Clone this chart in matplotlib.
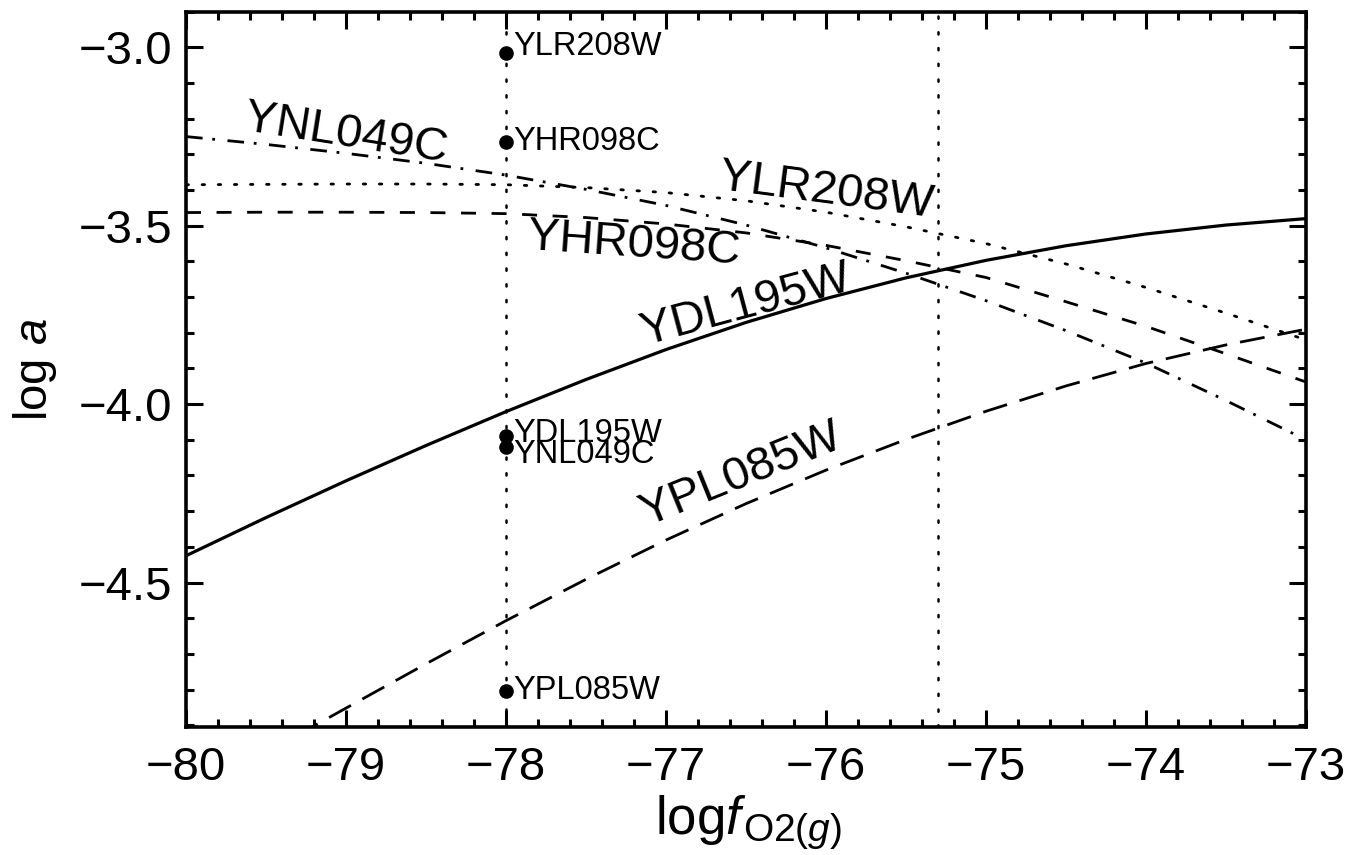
import matplotlib
matplotlib.use("Agg")
import matplotlib.pyplot as plt
from matplotlib.ticker import MultipleLocator, FuncFormatter

plt.rcParams['font.family'] = ['Liberation Sans', 'DejaVu Sans']
plt.rcParams['mathtext.fontset'] = 'custom'
plt.rcParams['mathtext.rm'] = 'Liberation Sans'
plt.rcParams['mathtext.it'] = 'Liberation Sans:italic'
plt.rcParams['mathtext.bf'] = 'Liberation Sans:bold'

# x grid of the curves (log fO2)
log_fo2 = [-80, -79.5, -79, -78.5, -78, -77.5, -77, -76.5, -76, -75.5, -75, -74.5, -74, -73.5, -73]

# log a of each protein along log fO2
ydl195w = [-4.425, -4.318, -4.215, -4.116, -4.021, -3.931, -3.847, -3.771, -3.704, -3.646, -3.597, -3.556, -3.523, -3.498, -3.480]
ylr208w = [-3.385, -3.384, -3.383, -3.383, -3.385, -3.393, -3.407, -3.43, -3.462, -3.503, -3.55, -3.607, -3.673, -3.745, -3.82]
yhr098c = [-3.463, -3.462, -3.462, -3.463, -3.466, -3.477, -3.495, -3.52, -3.555, -3.598, -3.645, -3.713, -3.782, -3.859, -3.938]
ynl049c = [-3.25, -3.272, -3.297, -3.325, -3.358, -3.398, -3.443, -3.498, -3.562, -3.633, -3.71, -3.794, -3.885, -3.99, -4.10]
ypl085w = [-4.977, -4.977, -4.852, -4.728, -4.607, -4.491, -4.381, -4.279, -4.185, -4.099, -4.02, -3.949, -3.886, -3.834, -3.79]

# reference points at log fO2 = -78
point_x = -78
point_names = ['YLR208W', 'YHR098C', 'YDL195W', 'YNL049C', 'YPL085W']
point_values = [-3.017, -3.264, -4.089, -4.119, -4.803]

# second vertical reference line
vline_x = -75.3

# curve label text
curve_names = ['YNL049C', 'YLR208W', 'YHR098C', 'YDL195W', 'YPL085W']

W, H = 1358, 855
fig = plt.figure(figsize=(W / 100, H / 100), dpi=100)
ax = fig.add_axes([186 / W, 1 - 727 / H, (1306 - 186) / W, (727 - 11.7) / H])

lw = 2.0
ax.plot(log_fo2, ydl195w, color='black', lw=2.3, linestyle='-')
ax.plot(log_fo2, ylr208w, color='black', lw=lw, linestyle=(0, (0.9, 4.9)), dash_capstyle='round')
ax.plot(log_fo2, yhr098c, color='black', lw=lw, linestyle=(0, (5.4, 5.6)))
ax.plot(log_fo2, ynl049c, color='black', lw=lw, linestyle=(0, (6, 3.5, 1, 4.5)))
ax.plot(log_fo2, ypl085w, color='black', lw=lw, linestyle=(0, (9, 4.7)))

# vertical dotted lines
for vx in [point_x, vline_x]:
    ax.axvline(vx, color='black', lw=1.8, linestyle=(0, (0.9, 5.4)), dash_capstyle='round')

# points with small labels
ax.plot([point_x] * len(point_values), point_values, 'o', color='black', markersize=9.5)
label_dy = [-7, 0, -2, 8, 0]  # pixel nudges, same as the original layout
for name, val, dy in zip(point_names, point_values, label_dy):
    ax.annotate(name, (point_x, val), xytext=(7, -dy), textcoords='offset pixels',
                ha='left', va='center', fontsize=23.5)

# large rotated curve labels
label_pos = [(-79.0, -3.242, -9), (-76.0, -3.402, -7.5), (-77.2, -3.553, -4),
             (-76.5, -3.725, 15), (-76.53, -4.20, 22)]
for name, (lx, ly, rot) in zip(curve_names, label_pos):
    ax.text(lx, ly, name, fontsize=34, rotation=rot, rotation_mode='anchor',
            ha='center', va='center')

ax.set_xlim(-80, -73)
ax.set_ylim(-4.905, -2.9)

ax.xaxis.set_major_locator(MultipleLocator(1))
ax.xaxis.set_minor_locator(MultipleLocator(0.2))
ax.yaxis.set_major_locator(MultipleLocator(0.5))
ax.yaxis.set_minor_locator(MultipleLocator(0.1))
ax.yaxis.set_major_formatter(FuncFormatter(lambda v, p: f'{v:.1f}'.replace('-', '\u2212')))

ax.tick_params(which='both', direction='in', top=True, right=True, width=2.2)
ax.tick_params(which='major', length=12, labelsize=34)
ax.tick_params(which='minor', length=6)
ax.tick_params(axis='x', which='major', pad=14)
ax.tick_params(axis='y', which='major', pad=10)
for sp in ax.spines.values():
    sp.set_linewidth(2.6)

ax.set_ylabel(r'log $a$', fontsize=34, labelpad=14)

# x label: "log f" with a large subscript O2(g), placed piece by piece
renderer = fig.canvas.get_renderer()
xl_main = fig.text(655 / W, 1 - 834 / H, r'log$f$', fontsize=38, ha='left', va='baseline')
bb = xl_main.get_window_extent(renderer=renderer)
fig.text((bb.x1 - 4) / W, 1 - 841 / H, r'O2($g$)', fontsize=28, ha='left', va='baseline')

fig.savefig('out.png', dpi=100)
